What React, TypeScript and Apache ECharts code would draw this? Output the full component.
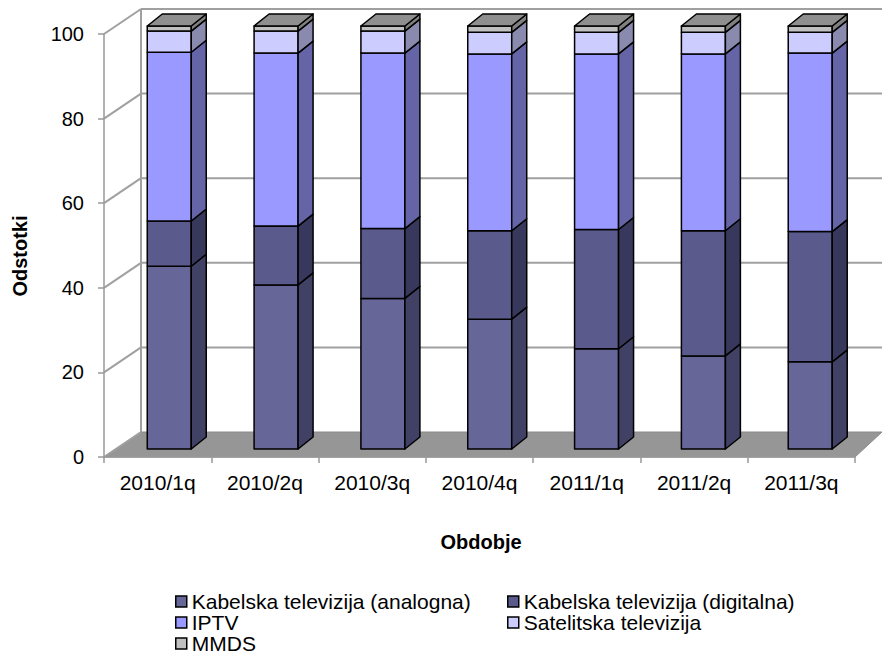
import React, { useEffect, useRef } from "react";
import * as echarts from "echarts";

const categories = ["2010/1q", "2010/2q", "2010/3q", "2010/4q", "2011/1q", "2011/2q", "2011/3q"];
const analogna = [43.2, 38.8, 35.6, 30.7, 23.7, 22.0, 20.6];
const digitalna = [10.7, 13.9, 16.5, 20.9, 28.2, 29.6, 30.8];
const iptv = [39.9, 40.9, 41.5, 41.8, 41.5, 41.8, 42.2];
const satelitska = [5.0, 5.2, 5.2, 5.1, 5.1, 5.1, 4.9];
const mmds = [1.2, 1.2, 1.2, 1.5, 1.5, 1.5, 1.5];

const seriesNames = [
  "Kabelska televizija (analogna)",
  "Kabelska televizija (digitalna)",
  "IPTV",
  "Satelitska televizija",
  "MMDS",
];
const seriesValues = [analogna, digitalna, iptv, satelitska, mmds];

const Y_MIN = 0;
const Y_MAX = 100;
const Y_STEP = 20;

const FONT = 'Arial, "Liberation Sans", sans-serif';

const COLORS = [
  { front: "#666699", side: "#414166" },
  { front: "#5a5a8c", side: "#38385c" },
  { front: "#9999FF", side: "#6464A6" },
  { front: "#CCCCFF", side: "#8A8AAE" },
  { front: "#C0C0C0", side: "#808080" },
];
const TOP_COLOR = "#8F8F8F";
const GRID_COLOR = "#A0A0A0";

// oblique projection constants
const DEPTH_X = 37;
const DEPTH_Y = -25;
const BACK_SHRINK = 10;
const BAR_T = 0.32;
const SIDE_DX = 15;
const SIDE_DY = -12;

// legend placement: [series index, left, row]
const LEGEND_LAYOUT = [
  [0, 175, 0],
  [1, 507, 0],
  [2, 175, 1],
  [3, 507, 1],
  [4, 175, 2],
];

function backX(x: number, cs: any) {
  return cs.x + DEPTH_X + ((x - cs.x) * (cs.width - BACK_SHRINK)) / cs.width;
}

export default function App() {
  const ref = useRef<HTMLDivElement>(null);

  useEffect(() => {
    if (!ref.current) return;
    const chart = echarts.init(ref.current, undefined, { renderer: "svg" });

    const frameSeries: any = {
      type: "custom",
      name: "__frame",
      silent: true,
      z: 1,
      data: [[0, 0]],
      renderItem: (params: any, api: any) => {
        const cs = params.coordSys;
        const x0 = cs.x;
        const x1 = cs.x + cs.width;
        const yb = cs.y + cs.height;
        const children: any[] = [];
        children.push({
          type: "polygon",
          shape: {
            points: [
              [x0, yb],
              [x1, yb],
              [backX(x1, cs), yb + DEPTH_Y],
              [backX(x0, cs), yb + DEPTH_Y],
            ],
          },
          style: { fill: "#969696", stroke: "#8a8a8a", lineWidth: 1 },
        });
        for (let v = Y_MIN; v <= Y_MAX; v += Y_STEP) {
          const fy = api.coord([0, v])[1];
          if (v > Y_MIN) {
            children.push({
              type: "line",
              shape: { x1: backX(x0, cs), y1: fy + DEPTH_Y, x2: backX(x1, cs), y2: fy + DEPTH_Y },
              style: { stroke: GRID_COLOR, lineWidth: 2 },
            });
          }
          children.push({
            type: "line",
            shape: { x1: x0, y1: fy, x2: backX(x0, cs), y2: fy + DEPTH_Y },
            style: { stroke: GRID_COLOR, lineWidth: 2 },
          });
        }
        const yTop = api.coord([0, Y_MAX])[1];
        children.push({
          type: "line",
          shape: { x1: backX(x0, cs), y1: yTop + DEPTH_Y, x2: backX(x0, cs), y2: yb + DEPTH_Y },
          style: { stroke: GRID_COLOR, lineWidth: 2 },
        });
        return { type: "group", children };
      },
    };

    const barSeries = seriesValues.map((vals, s) => {
      const data = vals.map((v, i) => {
        let base = 0;
        for (let k = 0; k < s; k++) base += seriesValues[k][i];
        return [i, v, base];
      });
      const isTop = s === seriesValues.length - 1;
      return {
        type: "custom",
        name: seriesNames[s],
        z: 4,
        itemStyle: { color: COLORS[s].front, borderColor: "#000", borderWidth: 1.5 },
        encode: { x: 0, y: 1 },
        data,
        renderItem: (params: any, api: any) => {
          const cs = params.coordSys;
          const i = api.value(0);
          const v = api.value(1);
          const b = api.value(2);
          const lo = api.coord([i, b]);
          const hi = api.coord([i, b + v]);
          const fx = lo[0];
          const cx = fx + BAR_T * (backX(fx, cs) - fx);
          const yLo = lo[1] + BAR_T * DEPTH_Y;
          const yHi = hi[1] + BAR_T * DEPTH_Y;
          const half = (api.size([1, 0])[0] * 0.41) / 2;
          const xl = cx - half;
          const xr = cx + half;
          const stroke = { stroke: "#000", lineWidth: 1.5, lineJoin: "round" };
          const children: any[] = [
            {
              type: "rect",
              shape: { x: xl, y: yHi, width: xr - xl, height: yLo - yHi },
              style: { fill: COLORS[s].front, ...stroke },
            },
            {
              type: "polygon",
              shape: {
                points: [
                  [xr, yHi],
                  [xr + SIDE_DX, yHi + SIDE_DY],
                  [xr + SIDE_DX, yLo + SIDE_DY],
                  [xr, yLo],
                ],
              },
              style: { fill: COLORS[s].side, ...stroke },
            },
          ];
          if (isTop) {
            children.push({
              type: "polygon",
              shape: {
                points: [
                  [xl, yHi],
                  [xr, yHi],
                  [xr + SIDE_DX, yHi + SIDE_DY],
                  [xl + SIDE_DX, yHi + SIDE_DY],
                ],
              },
              style: { fill: TOP_COLOR, ...stroke },
            });
          }
          return { type: "group", children };
        },
      };
    });

    const legends = LEGEND_LAYOUT.map(([s, left, row]) => ({
      orient: "horizontal",
      left,
      top: 591 + row * 21,
      itemWidth: 11,
      itemHeight: 11,
      padding: 0,
      icon: "rect",
      selectedMode: false,
      textStyle: { fontSize: 21, lineHeight: 16, color: "#000", fontFamily: FONT },
      data: [
        {
          name: seriesNames[s],
          itemStyle: { color: COLORS[s].front, borderColor: "#000", borderWidth: 1.5 },
        },
      ],
    }));

    const axisLineStyle = { color: "#999999", width: 1.5 };

    chart.setOption({
      animation: false,
      grid: { left: 104, right: 27, top: 34, bottom: 197, containLabel: false },
      xAxis: {
        type: "category",
        data: categories,
        z: 3,
        axisLine: { show: true, lineStyle: axisLineStyle },
        axisTick: { show: true, length: 6, lineStyle: axisLineStyle },
        axisLabel: { fontSize: 21, color: "#000", fontFamily: FONT, margin: 15 },
        splitLine: { show: false },
      },
      yAxis: {
        type: "value",
        min: Y_MIN,
        max: Y_MAX,
        interval: Y_STEP,
        z: 3,
        axisLine: { show: true, lineStyle: axisLineStyle },
        axisTick: { show: true, length: 6, lineStyle: axisLineStyle },
        axisLabel: { fontSize: 20, color: "#000", fontFamily: FONT, margin: 20 },
        splitLine: { show: false },
      },
      legend: legends,
      graphic: [
        {
          type: "text",
          x: 481,
          y: 542,
          style: {
            text: "Obdobje",
            fontSize: 20,
            fontWeight: "bold",
            fontFamily: FONT,
            fill: "#000",
            align: "center",
            verticalAlign: "middle",
          },
        },
        {
          type: "text",
          x: 20,
          y: 256,
          rotation: Math.PI / 2,
          style: {
            text: "Odstotki",
            fontSize: 20,
            fontWeight: "bold",
            fontFamily: FONT,
            fill: "#000",
            align: "center",
            verticalAlign: "middle",
          },
        },
      ],
      series: [frameSeries, ...barSeries],
    });

    return () => chart.dispose();
  }, []);

  return (
    <div
      ref={ref}
      style={{ position: "fixed", left: 0, top: 0, width: 882, height: 654, background: "#fff" }}
    />
  );
}
